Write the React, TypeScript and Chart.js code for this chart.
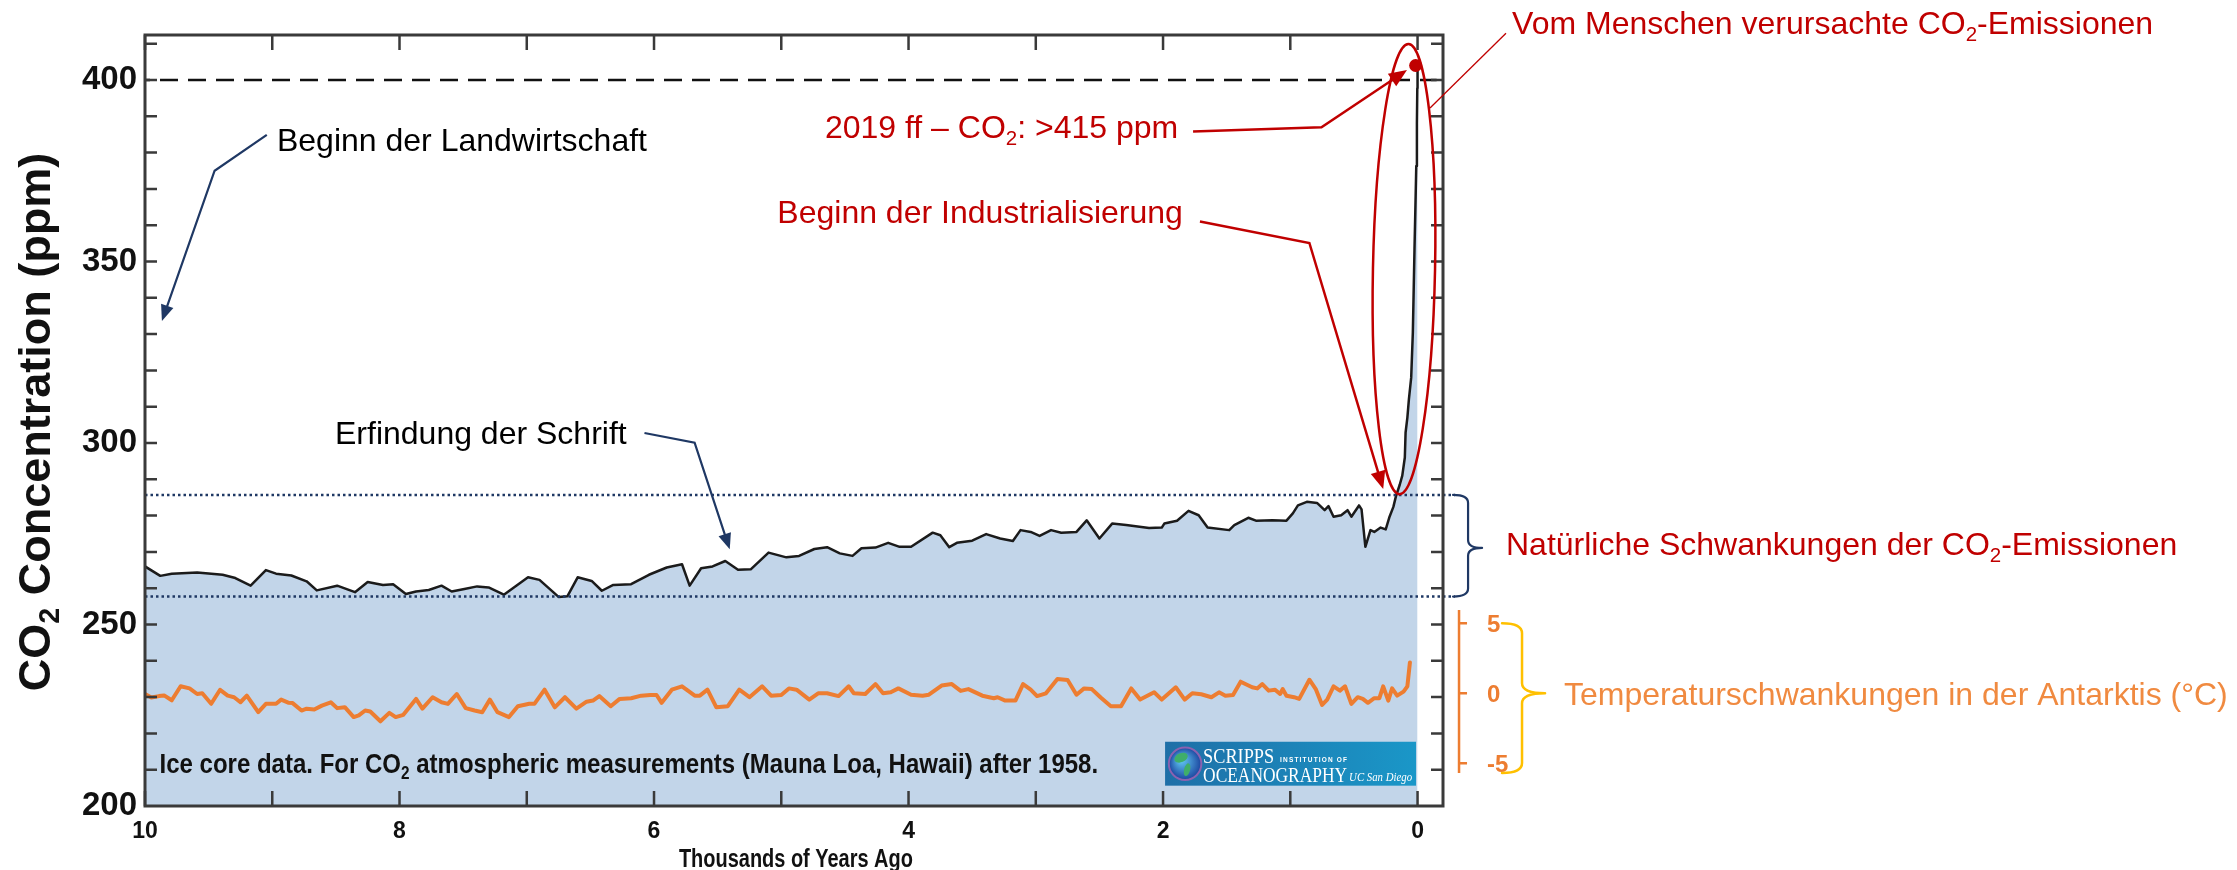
import React, { useEffect, useRef } from 'react';
import { Chart, registerables } from 'chart.js';

Chart.register(...registerables);

const W = 2237;
const H = 870;

// CO2 concentration (ppm); age in thousands of years before present
const co2Age = [
  10.0, 9.88, 9.79, 9.59, 9.39, 9.29, 9.17, 9.05, 8.97, 8.85,
  8.73, 8.65, 8.49, 8.35, 8.25, 8.13, 8.05, 7.95, 7.87, 7.77,
  7.67, 7.59, 7.49, 7.39, 7.3, 7.18, 6.99, 6.9, 6.75, 6.68,
  6.6, 6.49, 6.41, 6.32, 6.18, 6.04, 5.9, 5.78, 5.72, 5.63,
  5.54, 5.44, 5.34, 5.24, 5.1, 4.96, 4.86, 4.74, 4.64, 4.54,
  4.44, 4.37, 4.26, 4.16, 4.07, 3.98, 3.81, 3.75, 3.68, 3.62,
  3.5, 3.39, 3.28, 3.18, 3.12, 3.04, 2.97, 2.88, 2.8, 2.68,
  2.6, 2.5, 2.4, 2.29, 2.11, 2.01, 1.99, 1.89, 1.8, 1.72,
  1.65, 1.48, 1.44, 1.33, 1.27, 1.14, 1.03, 0.98, 0.94, 0.87,
  0.79, 0.73, 0.7, 0.66, 0.6, 0.55, 0.52, 0.46, 0.44, 0.41,
  0.37, 0.34, 0.29, 0.25, 0.22, 0.19, 0.17, 0.14, 0.12, 0.1,
  0.094, 0.08, 0.068, 0.05, 0.037, 0.024, 0.015, 0.01, 0.005, 0.002,
  0.0,
];
const co2Ppm = [
  266.0, 263.4, 264.0, 264.3, 263.7, 262.8, 260.7, 265.0, 264.0, 263.5,
  261.9, 259.4, 260.7, 258.9, 261.7, 260.9, 261.1, 258.4, 259.1, 259.5,
  260.7, 259.1, 259.8, 260.5, 260.2, 258.2, 263.0, 262.3, 257.6, 257.8,
  263.0, 262.0, 259.3, 260.9, 261.1, 263.7, 265.7, 266.6, 260.7, 265.5,
  266.0, 267.5, 265.1, 265.2, 269.8, 268.5, 268.9, 270.8, 271.3, 269.6,
  268.9, 271.0, 271.2, 272.5, 271.4, 271.4, 275.3, 274.6, 271.3, 272.5,
  273.1, 274.9, 273.7, 273.0, 276.0, 275.5, 274.4, 276.0, 275.3, 275.5,
  278.7, 273.7, 277.8, 277.4, 276.6, 276.7, 277.8, 278.6, 281.3, 280.1,
  276.7, 276.0, 277.4, 279.4, 278.6, 278.7, 278.6, 280.6, 282.8, 283.8,
  283.5, 281.5, 282.6, 279.7, 280.1, 281.5, 279.7, 282.8, 281.7, 271.4,
  276.0, 275.5, 276.7, 276.2, 279.7, 282.4, 285.3, 288.5, 291.0, 296.0,
  302.9, 307.0, 312.0, 318.0, 330.4, 353.4, 368.0, 376.3, 388.0, 397.7,
  405.0,
];

// Antarctic temperature anomaly (°C) on the same age axis
const tempAge = [
  10.0, 9.95, 9.89, 9.85, 9.79, 9.72, 9.65, 9.59, 9.55, 9.48,
  9.41, 9.35, 9.3, 9.25, 9.2, 9.11, 9.05, 8.97, 8.93, 8.87,
  8.84, 8.77, 8.73, 8.67, 8.61, 8.54, 8.49, 8.43, 8.36, 8.32,
  8.27, 8.23, 8.15, 8.08, 8.03, 7.97, 7.87, 7.82, 7.74, 7.67,
  7.62, 7.55, 7.48, 7.41, 7.35, 7.29, 7.23, 7.14, 7.07, 6.98,
  6.94, 6.86, 6.78, 6.7, 6.61, 6.53, 6.48, 6.43, 6.34, 6.27,
  6.18, 6.1, 6.03, 5.98, 5.94, 5.86, 5.78, 5.68, 5.64, 5.58,
  5.51, 5.42, 5.33, 5.25, 5.15, 5.08, 5.0, 4.94, 4.88, 4.78,
  4.71, 4.64, 4.55, 4.47, 4.43, 4.34, 4.26, 4.2, 4.14, 4.08,
  3.98, 3.89, 3.84, 3.74, 3.66, 3.59, 3.53, 3.42, 3.33, 3.3,
  3.24, 3.16, 3.1, 3.04, 2.99, 2.92, 2.83, 2.75, 2.68, 2.62,
  2.56, 2.49, 2.41, 2.33, 2.25, 2.18, 2.07, 2.01, 1.9, 1.83,
  1.77, 1.7, 1.62, 1.56, 1.51, 1.45, 1.39, 1.3, 1.26, 1.22,
  1.17, 1.12, 1.08, 1.06, 1.03, 0.97, 0.93, 0.85, 0.8, 0.75,
  0.71, 0.66, 0.61, 0.57, 0.52, 0.47, 0.43, 0.39, 0.34, 0.3,
  0.27, 0.23, 0.2, 0.16, 0.11, 0.08, 0.06,
];
const tempC = [
  -0.05, -0.3, -0.2, -0.15, -0.5, 0.5, 0.35, -0.05, 0.0, -0.75,
  0.25, -0.17, -0.28, -0.64, -0.17, -1.35, -0.75, -0.75, -0.45, -0.68,
  -0.7, -1.23, -1.1, -1.16, -0.88, -0.64, -1.06, -0.99, -1.7, -1.58,
  -1.23, -1.3, -2.0, -1.4, -1.7, -1.54, -0.4, -1.1, -0.28, -0.64,
  -0.76, -0.05, -1.06, -1.23, -1.35, -0.45, -1.35, -1.7, -0.92, -0.75,
  -0.75, 0.26, -1.0, -0.28, -1.1, -0.6, -0.52, -0.2, -0.92, -0.4,
  -0.35, -0.17, -0.12, -0.12, -0.68, 0.26, 0.5, -0.17, -0.17, 0.26,
  -1.0, -0.92, 0.26, -0.28, 0.5, -0.17, -0.12, 0.35, 0.26, -0.45,
  0.0, 0.0, -0.2, 0.5, 0.0, -0.05, 0.66, 0.0, 0.07, 0.35,
  -0.1, -0.17, -0.1, 0.55, 0.66, 0.17, 0.3, -0.17, -0.35, -0.28,
  -0.52, -0.52, 0.66, 0.26, -0.2, 0.0, 1.02, 0.95, -0.1, 0.35,
  0.3, -0.3, -0.92, -0.92, 0.35, -0.45, 0.07, -0.45, 0.43, -0.45,
  0.0, -0.07, -0.28, 0.07, -0.17, -0.12, 0.83, 0.43, 0.35, 0.66,
  0.19, 0.26, -0.05, 0.3, -0.17, -0.28, -0.4, 0.97, 0.3, -0.83,
  -0.45, 0.5, 0.19, 0.5, -0.76, -0.28, -0.4, -0.68, -0.35, -0.35,
  0.5, -0.52, 0.35, -0.17, 0.12, 0.5, 2.2,
];

// Tick labels
const ageTicks = [10, 8, 6, 4, 2, 0];
const ppmTicks = [200, 250, 300, 350, 400];
const tempTicks = [5, 0, -5];

// Reference levels and the latest measurement
const referencePpm = 400;
const naturalRangePpm = [257.7, 285.7];
const latestAge = 0.015;
const latestPpm = 404;

// Axis ranges
const AGE_MIN = -0.2;
const AGE_MAX = 10;
const PPM_MIN = 200;
const PPM_MAX = 412.4;
const TEMP_MIN = -8.05;
const TEMP_MAX = 47.02;
const MINOR_PPM = 10;
const MINOR_AGE = 1;

// Plot frame in canvas pixels
const FRAME = { left: 145, top: 35, right: 1443, bottom: 806 };

const SANS = '"Liberation Sans", Arial, Helvetica, sans-serif';
const SERIF = '"Liberation Serif", "Times New Roman", serif';
const RED = '#c00000';
const NAVY = '#1f3864';
const ORANGE = '#ed7d31';
const ORANGE_TEXT = '#f08a40';
const GOLD = '#ffc000';
const AXIS = '#3a3a3a';
const FILL = '#c2d5e9';
const SUB = 0.64;

type Part = { t: string; sub?: boolean };
type Opts = { align?: 'left' | 'center'; fitWidth?: number; family?: string; style?: string };

function font(size: number, weight: string, family: string, style = 'normal') {
  return `${style} ${weight} ${size}px ${family}`;
}

function partsWidth(ctx: CanvasRenderingContext2D, parts: Part[], size: number, weight: string, family: string, style: string) {
  let w = 0;
  for (const p of parts) {
    ctx.font = font(p.sub ? size * SUB : size, weight, family, style);
    w += ctx.measureText(p.t).width;
  }
  return w;
}

// Draws text (with optional subscripts) whose cap height is centred on yc
function label(ctx: CanvasRenderingContext2D, parts: Part[], x: number, yc: number, size: number, color: string, weight = 'normal', opts: Opts = {}) {
  const family = opts.family ?? SANS;
  const style = opts.style ?? 'normal';
  const natural = partsWidth(ctx, parts, size, weight, family, style);
  const sx = opts.fitWidth ? opts.fitWidth / natural : 1;
  const w = natural * sx;
  const left = opts.align === 'center' ? x - w / 2 : x;
  ctx.save();
  ctx.translate(left, yc + 0.358 * size);
  ctx.scale(sx, 1);
  ctx.fillStyle = color;
  ctx.textAlign = 'left';
  ctx.textBaseline = 'alphabetic';
  let cx = 0;
  for (const p of parts) {
    const s = p.sub ? size * SUB : size;
    ctx.font = font(s, weight, family, style);
    ctx.fillText(p.t, cx, p.sub ? size * 0.2 : 0);
    cx += ctx.measureText(p.t).width;
  }
  ctx.restore();
}

function arrow(ctx: CanvasRenderingContext2D, pts: number[][], color: string, width: number, headLen: number, headHalf: number) {
  const n = pts.length;
  const [tx, ty] = pts[n - 1];
  const [px, py] = pts[n - 2];
  const len = Math.hypot(tx - px, ty - py);
  const ux = (tx - px) / len;
  const uy = (ty - py) / len;
  const bx = tx - ux * headLen;
  const by = ty - uy * headLen;
  ctx.strokeStyle = color;
  ctx.lineWidth = width;
  ctx.lineJoin = 'miter';
  ctx.lineCap = 'butt';
  ctx.beginPath();
  ctx.moveTo(pts[0][0], pts[0][1]);
  for (let i = 1; i < n - 1; i++) ctx.lineTo(pts[i][0], pts[i][1]);
  ctx.lineTo(bx + ux * 2, by + uy * 2);
  ctx.stroke();
  ctx.fillStyle = color;
  ctx.beginPath();
  ctx.moveTo(tx, ty);
  ctx.lineTo(bx - uy * headHalf, by + ux * headHalf);
  ctx.lineTo(bx + uy * headHalf, by - ux * headHalf);
  ctx.closePath();
  ctx.fill();
}

function brace(ctx: CanvasRenderingContext2D, x0: number, x1: number, x2: number, yTop: number, yMid: number, yBot: number, r: number, color: string, width: number) {
  ctx.strokeStyle = color;
  ctx.lineWidth = width;
  ctx.lineJoin = 'round';
  ctx.lineCap = 'round';
  ctx.beginPath();
  ctx.moveTo(x0, yTop);
  ctx.quadraticCurveTo(x1, yTop, x1, yTop + r);
  ctx.lineTo(x1, yMid - r);
  ctx.quadraticCurveTo(x1, yMid, x2, yMid);
  ctx.moveTo(x2, yMid);
  ctx.quadraticCurveTo(x1, yMid, x1, yMid + r);
  ctx.lineTo(x1, yBot - r);
  ctx.quadraticCurveTo(x1, yBot, x0, yBot);
  ctx.stroke();
}

function spaced(ctx: CanvasRenderingContext2D, text: string, x: number, base: number, width: number) {
  const chars = text.split('');
  const raw = chars.reduce((s, c) => s + ctx.measureText(c).width, 0);
  const gap = (width - raw) / (chars.length - 1);
  let cx = x;
  for (const c of chars) {
    ctx.fillText(c, cx, base);
    cx += ctx.measureText(c).width + gap;
  }
}

function scrippsLogo(ctx: CanvasRenderingContext2D, x0: number, y0: number, x1: number, y1: number) {
  const w = x1 - x0;
  const h = y1 - y0;
  const g = ctx.createLinearGradient(x0, y0, x1, y0);
  g.addColorStop(0, '#1e6fa7');
  g.addColorStop(1, '#1a97c8');
  ctx.fillStyle = g;
  ctx.fillRect(x0, y0, w, h);

  // globe
  const cx = x0 + 20;
  const cy = y0 + h / 2;
  const r = h * 0.37;
  ctx.save();
  ctx.beginPath();
  ctx.arc(cx, cy, r, 0, Math.PI * 2);
  const rg = ctx.createRadialGradient(cx - 4, cy - 4, 2, cx, cy, r);
  rg.addColorStop(0, '#5cc0ee');
  rg.addColorStop(1, '#1c46a0');
  ctx.fillStyle = rg;
  ctx.fill();
  ctx.clip();
  ctx.fillStyle = '#3fae6a';
  ctx.beginPath();
  ctx.ellipse(cx - 4, cy - 6, 7, 4.5, -0.4, 0, Math.PI * 2);
  ctx.fill();
  ctx.beginPath();
  ctx.ellipse(cx + 2, cy + 6, 3, 6.5, 0.25, 0, Math.PI * 2);
  ctx.fill();
  ctx.restore();
  ctx.strokeStyle = '#8a62b0';
  ctx.lineWidth = 2;
  ctx.beginPath();
  ctx.arc(cx, cy, r, 0, Math.PI * 2);
  ctx.stroke();

  ctx.fillStyle = '#ffffff';
  ctx.textAlign = 'left';
  ctx.textBaseline = 'alphabetic';
  const serifLine = (text: string, x: number, base: number, size: number, width: number, style = 'normal') => {
    ctx.font = font(size, 'normal', SERIF, style);
    const nat = ctx.measureText(text).width;
    ctx.save();
    ctx.translate(x, base);
    ctx.scale(width / nat, 1);
    ctx.fillText(text, 0, 0);
    ctx.restore();
  };
  serifLine('SCRIPPS', x0 + 38, y0 + 21.5, 22, 71);
  serifLine('OCEANOGRAPHY', x0 + 38, y0 + 40, 22, 144);
  serifLine('UC San Diego', x0 + 184, y0 + 39, 12, 63, 'italic');
  ctx.font = font(6.5, 'bold', SANS);
  spaced(ctx, 'INSTITUTION OF', x0 + 115, y0 + 20.5, 67);
}

const overlay = {
  id: 'overlay',
  afterDatasetsDraw(chart: any) {
    const { ctx, chartArea: a } = chart;
    const X = (v: number) => chart.scales.x.getPixelForValue(v);
    const Y = (v: number) => chart.scales.y.getPixelForValue(v);
    const T = (v: number) => chart.scales.y2.getPixelForValue(v);
    ctx.save();

    // data source note and logo inside the plot
    label(
      ctx,
      [{ t: 'Ice core data. For CO' }, { t: '2', sub: true }, { t: ' atmospheric measurements (Mauna Loa, Hawaii) after 1958.' }],
      X(9.886), Y(211.8), 28, '#111', 'bold', { fitWidth: X(2.51) - X(9.886) }
    );
    scrippsLogo(ctx, X(1.984), Y(217.7), X(0.012), Y(205.6));

    // inward ticks and frame
    ctx.strokeStyle = AXIS;
    ctx.lineWidth = 2.5;
    ctx.lineCap = 'butt';
    ctx.beginPath();
    for (let v = PPM_MIN + MINOR_PPM; v < PPM_MAX; v += MINOR_PPM) {
      const y = Y(v);
      ctx.moveTo(a.left, y); ctx.lineTo(a.left + 12, y);
      ctx.moveTo(a.right, y); ctx.lineTo(a.right - 12, y);
    }
    for (let k = 0; k <= AGE_MAX; k += MINOR_AGE) {
      const x = X(k);
      ctx.moveTo(x, a.bottom); ctx.lineTo(x, a.bottom - 15);
      ctx.moveTo(x, a.top); ctx.lineTo(x, a.top + 15);
    }
    ctx.stroke();
    ctx.lineWidth = 3;
    ctx.strokeRect(a.left, a.top, a.right - a.left, a.bottom - a.top);

    // axis titles
    ctx.save();
    ctx.translate(X(10.75), Y(305.8));
    ctx.rotate(-Math.PI / 2);
    label(ctx, [{ t: 'CO' }, { t: '2', sub: true }, { t: ' Concentration (ppm)' }], 0, -0.358 * 45, 45, '#111', 'bold', { align: 'center' });
    ctx.restore();
    label(ctx, [{ t: 'Thousands of Years Ago' }], X(4.885), Y(185.7), 25, '#111', 'bold', { align: 'center', fitWidth: 234 });

    // temperature axis
    const ox = X(-0.326);
    ctx.strokeStyle = ORANGE;
    ctx.lineWidth = 2.5;
    ctx.beginPath();
    ctx.moveTo(ox, T(5.95)); ctx.lineTo(ox, T(-5.7));
    for (const v of tempTicks) { ctx.moveTo(ox, T(v)); ctx.lineTo(ox + 8, T(v)); }
    ctx.stroke();
    for (const v of tempTicks) label(ctx, [{ t: String(v) }], X(-0.546), T(v), 24, ORANGE, 'bold');

    // braces
    brace(ctx, X(-0.279), X(-0.397), X(-0.507), Y(naturalRangePpm[1]), Y(271.1), Y(naturalRangePpm[0]), 8, NAVY, 2.2);
    brace(ctx, X(-0.664), X(-0.821), X(-1.002), T(5), T(0), T(-5.7), 10, GOLD, 2.5);

    // black annotations with navy arrows
    label(ctx, [{ t: 'Beginn der Landwirtschaft' }], X(8.963), Y(383.7), 32, '#000');
    arrow(ctx, [[X(9.043), Y(384.9)], [X(9.453), Y(375.0)], [X(9.867), Y(333.6)]], NAVY, 2.2, 16, 6.5);
    label(ctx, [{ t: 'Erfindung der Schrift' }], X(8.507), Y(303.0), 32, '#000');
    arrow(ctx, [[X(6.075), Y(302.75)], [X(5.681), Y(300.1)], [X(5.405), Y(270.7)]], NAVY, 2.2, 16, 6.5);

    // red annotations
    label(ctx, [{ t: '2019 ff \u2013 CO' }, { t: '2', sub: true }, { t: ': >415 ppm' }], X(4.657), Y(387.05), 32, RED);
    arrow(ctx, [[X(1.764), Y(385.8)], [X(0.755), Y(387.0)], [X(0.083), Y(402.75)]], RED, 2.5, 18, 7.5);
    label(ctx, [{ t: 'Beginn der Industrialisierung' }], X(5.031), Y(363.8), 32, RED);
    arrow(ctx, [[X(1.71), Y(361.0)], [X(0.85), Y(355.1)], [X(0.27), Y(287.3)]], RED, 2.5, 18, 7.5);

    // ellipse around the modern rise
    const ecx = X(0.1065);
    const ecy = Y(347.9);
    ctx.strokeStyle = RED;
    ctx.lineWidth = 2.5;
    ctx.beginPath();
    ctx.ellipse(ecx, ecy, Math.abs(X(0.1065 + 0.244) - ecx), Math.abs(Y(347.9 - 62) - ecy), 0.02, 0, Math.PI * 2);
    ctx.stroke();
    ctx.lineWidth = 1.3;
    ctx.beginPath();
    ctx.moveTo(X(-0.098), Y(392.3));
    ctx.lineTo(X(-0.695), Y(412.9));
    ctx.stroke();

    label(ctx, [{ t: 'Vom Menschen verursachte CO' }, { t: '2', sub: true }, { t: '-Emissionen' }], X(-0.743), Y(415.7), 32, RED);
    label(ctx, [{ t: 'Nat\u00fcrliche Schwankungen der CO' }, { t: '2', sub: true }, { t: '-Emissionen' }], X(-0.695), Y(272.2), 32, RED);
    label(ctx, [{ t: 'Temperaturschwankungen in der Antarktis (\u00b0C)' }], X(-1.151), T(0), 32, ORANGE_TEXT);

    ctx.restore();
  },
};

export default function App() {
  const ref = useRef<HTMLCanvasElement>(null);

  useEffect(() => {
    const canvas = ref.current;
    if (!canvas) return;
    Chart.defaults.font.family = SANS;
    const chart = new Chart(canvas, {
      type: 'line',
      data: {
        datasets: [
          {
            label: 'CO2',
            data: co2Age.map((x, i) => ({ x, y: co2Ppm[i] })),
            yAxisID: 'y',
            borderColor: '#1b1b1b',
            borderWidth: 2.5,
            backgroundColor: FILL,
            fill: 'start',
            pointRadius: 0,
            borderJoinStyle: 'round',
            order: 6,
          },
          {
            label: 'Temperatur',
            data: tempAge.map((x, i) => ({ x, y: tempC[i] })),
            yAxisID: 'y2',
            borderColor: ORANGE,
            borderWidth: 4,
            fill: false,
            pointRadius: 0,
            borderJoinStyle: 'round',
            borderCapStyle: 'round',
            order: 4,
          },
          ...naturalRangePpm.map((v) => ({
            label: 'range',
            data: [{ x: AGE_MAX, y: v }, { x: -0.294, y: v }],
            yAxisID: 'y',
            borderColor: NAVY,
            borderWidth: 2.5,
            borderDash: [2.5, 3],
            fill: false,
            pointRadius: 0,
            clip: false,
            order: 3,
          })),
          {
            label: 'reference',
            data: [{ x: AGE_MAX, y: referencePpm }, { x: -0.15, y: referencePpm }],
            yAxisID: 'y',
            borderColor: '#111',
            borderWidth: 2.5,
            borderDash: [18, 10],
            borderDashOffset: 13,
            fill: false,
            pointRadius: 0,
            order: 2,
          },
          {
            label: 'latest',
            data: [{ x: latestAge, y: latestPpm }],
            yAxisID: 'y',
            showLine: false,
            pointRadius: 6.5,
            pointBackgroundColor: RED,
            pointBorderColor: RED,
            pointBorderWidth: 0,
            clip: false,
            order: 1,
          },
        ],
      },
      options: {
        responsive: false,
        animation: false,
        devicePixelRatio: 1,
        events: [],
        layout: { padding: { left: 0, top: FRAME.top, right: W - FRAME.right, bottom: 0 } },
        plugins: { legend: { display: false }, tooltip: { enabled: false } },
        scales: {
          x: {
            type: 'linear',
            position: 'bottom',
            reverse: true,
            min: AGE_MIN,
            max: AGE_MAX,
            grid: { display: false, drawTicks: false },
            border: { display: false },
            ticks: { color: '#111', font: { size: 23, weight: 'bold', family: SANS }, padding: 12, autoSkip: false, maxRotation: 0 },
            afterBuildTicks: (s: any) => { s.ticks = ageTicks.map((value) => ({ value })); },
            afterFit: (s: any) => { s.height = H - FRAME.bottom; },
          },
          y: {
            type: 'linear',
            position: 'left',
            min: PPM_MIN,
            max: PPM_MAX,
            grid: { display: false, drawTicks: false },
            border: { display: false },
            ticks: { color: '#111', font: { size: 33, weight: 'bold', family: SANS }, padding: 8, autoSkip: false },
            afterBuildTicks: (s: any) => { s.ticks = ppmTicks.map((value) => ({ value })); },
            afterFit: (s: any) => { s.width = FRAME.left; },
          },
          y2: {
            type: 'linear',
            position: 'right',
            display: false,
            min: TEMP_MIN,
            max: TEMP_MAX,
          },
        },
      } as any,
      plugins: [overlay],
    });
    return () => chart.destroy();
  }, []);

  return (
    <div style={{ position: 'fixed', left: 0, top: 0, width: W, height: H, background: '#ffffff' }}>
      <canvas ref={ref} width={W} height={H} style={{ display: 'block', width: W, height: H }} />
    </div>
  );
}
